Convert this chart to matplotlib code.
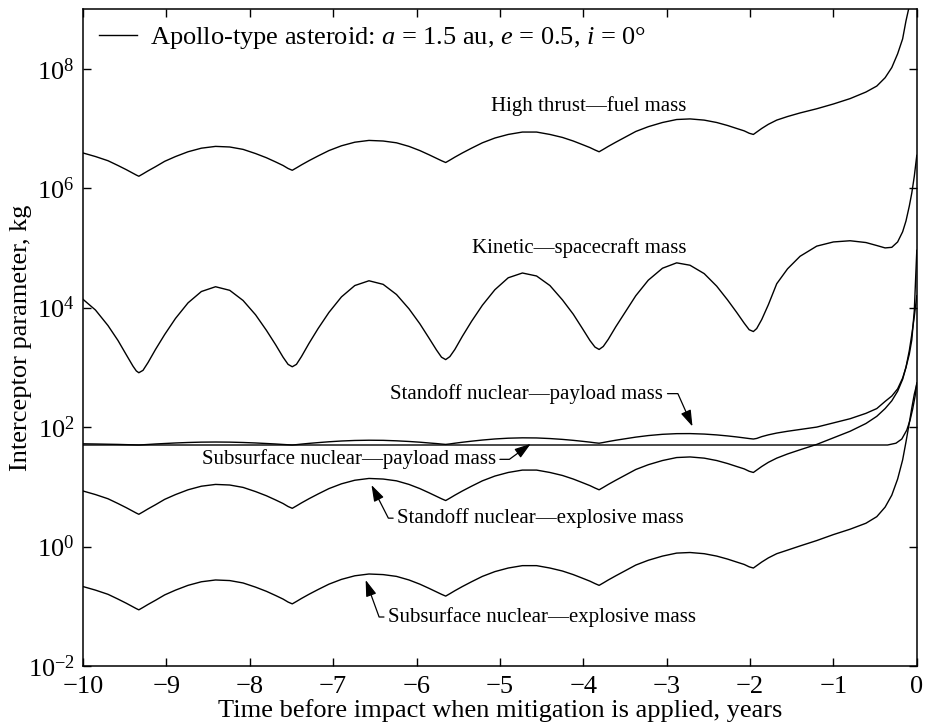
import matplotlib
matplotlib.use("Agg")
import matplotlib.pyplot as plt
import numpy as np
from matplotlib.ticker import NullLocator, LogFormatterMathtext

plt.rcParams['font.family'] = 'serif'
plt.rcParams['font.serif'] = ['Liberation Serif', 'DejaVu Serif']
plt.rcParams['mathtext.fontset'] = 'custom'
plt.rcParams['mathtext.rm'] = 'Liberation Serif'
plt.rcParams['mathtext.it'] = 'Liberation Serif:italic'
plt.rcParams['mathtext.bf'] = 'Liberation Serif:bold'

# time before impact, years
t = [-10.0, -9.85, -9.70, -9.58, -9.48, -9.40, -9.36,
     -9.33,
     -9.28, -9.22, -9.13, -9.02, -8.89, -8.74, -8.58, -8.41, -8.24, -8.08, -7.93, -7.80, -7.69, -7.60, -7.54,
     -7.49,
     -7.44, -7.38, -7.29, -7.18, -7.05, -6.90, -6.74, -6.57, -6.40, -6.24, -6.09, -5.96, -5.85, -5.76, -5.70,
     -5.65,
     -5.60, -5.54, -5.45, -5.34, -5.21, -5.06, -4.90, -4.73, -4.56, -4.40, -4.25, -4.12, -4.01, -3.92, -3.86,
     -3.81,
     -3.76, -3.70, -3.61, -3.49, -3.37, -3.22, -3.05, -2.88, -2.72, -2.55, -2.40, -2.27, -2.16, -2.07, -2.01,
     -1.96,
     -1.92, -1.86, -1.78, -1.68, -1.55, -1.40, -1.20, -1.00, -0.80, -0.61, -0.48, -0.38, -0.30, -0.23,
     -0.17, -0.13, -0.09, -0.06, -0.03, 0.0]

# log10 of mass in kg
high_thrust = [6.59, 6.53, 6.46, 6.38, 6.31, 6.25, 6.22,
               6.20,
               6.24, 6.29, 6.36, 6.45, 6.53, 6.61, 6.67, 6.70, 6.69, 6.65, 6.58, 6.51, 6.44, 6.38, 6.33,
               6.30,
               6.34, 6.39, 6.46, 6.54, 6.63, 6.71, 6.77, 6.80, 6.79, 6.76, 6.70, 6.63, 6.56, 6.50, 6.46,
               6.43,
               6.47, 6.52, 6.59, 6.67, 6.76, 6.84, 6.90, 6.94, 6.94, 6.90, 6.85, 6.79, 6.73, 6.68, 6.64,
               6.61,
               6.65, 6.70, 6.77, 6.86, 6.95, 7.03, 7.10, 7.15, 7.16, 7.14, 7.10, 7.05, 7.00, 6.96, 6.92,
               6.90,
               6.94, 7.00, 7.07, 7.14, 7.20, 7.26, 7.33, 7.41, 7.50, 7.61, 7.71, 7.85, 8.02, 8.25,
               8.50, 8.80, 9.05, 9.3, 9.6, 9.9]

kinetic = [4.14, 3.96, 3.70, 3.45, 3.21, 3.02, 2.94,
           2.91,
           2.95, 3.08, 3.30, 3.55, 3.82, 4.08, 4.27, 4.35, 4.29, 4.12, 3.88, 3.62, 3.38, 3.17, 3.05,
           3.01,
           3.05, 3.18, 3.40, 3.65, 3.92, 4.18, 4.37, 4.45, 4.39, 4.22, 3.98, 3.73, 3.49, 3.29, 3.17,
           3.13,
           3.18, 3.30, 3.52, 3.77, 4.04, 4.30, 4.50, 4.58, 4.53, 4.37, 4.13, 3.89, 3.65, 3.45, 3.34,
           3.30,
           3.35, 3.47, 3.68, 3.94, 4.20, 4.46, 4.66, 4.75, 4.71, 4.57, 4.36, 4.13, 3.92, 3.74, 3.63,
           3.60,
           3.65, 3.80, 4.05, 4.40, 4.65, 4.86, 5.03, 5.10, 5.12, 5.09, 5.04, 5.00, 5.01, 5.10,
           5.27, 5.45, 5.70, 5.92, 6.20, 6.55]

standoff_payload = [1.720, 1.717, 1.713, 1.710, 1.706, 1.703, 1.701,
                    1.700,
                    1.704, 1.709, 1.717, 1.725, 1.734, 1.742, 1.748, 1.750, 1.748, 1.742, 1.734, 1.725, 1.717, 1.709, 1.704,
                    1.700,
                    1.706, 1.715, 1.727, 1.740, 1.754, 1.767, 1.776, 1.780, 1.778, 1.770, 1.759, 1.747, 1.734, 1.724, 1.716,
                    1.710,
                    1.718, 1.730, 1.746, 1.764, 1.783, 1.801, 1.814, 1.820, 1.818, 1.808, 1.794, 1.778, 1.762, 1.748, 1.737,
                    1.730,
                    1.742, 1.758, 1.780, 1.806, 1.832, 1.858, 1.879, 1.890, 1.891, 1.883, 1.869, 1.852, 1.835, 1.819, 1.808,
                    1.800,
                    1.81, 1.84, 1.87, 1.90, 1.93, 1.96, 2.00, 2.07, 2.14, 2.23, 2.31, 2.43, 2.52, 2.64,
                    2.82, 3.00, 3.22, 3.46, 3.95, 4.96]

standoff_explosive = [0.93, 0.87, 0.80, 0.72, 0.65, 0.59, 0.56,
                      0.54,
                      0.58, 0.63, 0.70, 0.79, 0.87, 0.95, 1.01, 1.04, 1.03, 0.99, 0.92, 0.85, 0.78, 0.72, 0.67,
                      0.64,
                      0.68, 0.73, 0.80, 0.88, 0.97, 1.05, 1.11, 1.14, 1.13, 1.10, 1.04, 0.97, 0.90, 0.84, 0.80,
                      0.77,
                      0.81, 0.86, 0.93, 1.01, 1.10, 1.18, 1.24, 1.28, 1.28, 1.24, 1.19, 1.13, 1.07, 1.02, 0.98,
                      0.95,
                      0.99, 1.04, 1.11, 1.20, 1.29, 1.37, 1.44, 1.49, 1.50, 1.48, 1.44, 1.39, 1.34, 1.30, 1.26,
                      1.24,
                      1.28, 1.34, 1.41, 1.48, 1.55, 1.62, 1.71, 1.82, 1.93, 2.06, 2.18, 2.31, 2.44, 2.60,
                      2.80, 3.00, 3.28, 3.55, 3.85, 4.20]

subsurface_explosive = [-0.67, -0.73, -0.80, -0.88, -0.95, -1.01, -1.04,
                        -1.06,
                        -1.02, -0.97, -0.90, -0.81, -0.73, -0.65, -0.59, -0.56, -0.57, -0.61, -0.68, -0.75, -0.82, -0.88, -0.93,
                        -0.96,
                        -0.92, -0.87, -0.80, -0.72, -0.63, -0.55, -0.49, -0.46, -0.47, -0.50, -0.56, -0.63, -0.70, -0.76, -0.80,
                        -0.83,
                        -0.79, -0.74, -0.67, -0.59, -0.50, -0.42, -0.36, -0.32, -0.32, -0.36, -0.41, -0.47, -0.53, -0.58, -0.62,
                        -0.65,
                        -0.61, -0.56, -0.49, -0.40, -0.31, -0.23, -0.16, -0.11, -0.10, -0.12, -0.16, -0.21, -0.26, -0.30, -0.34,
                        -0.36,
                        -0.32, -0.26, -0.19, -0.12, -0.06, 0.01, 0.10, 0.20, 0.29, 0.39, 0.50, 0.66, 0.86, 1.13,
                        1.45, 1.75, 2.07, 2.32, 2.55, 2.72]

t_sub_payload = [-10.0, -0.35, -0.25, -0.18, -0.12, -0.08, -0.05, -0.02, 0.0]
subsurface_payload = [1.70, 1.70, 1.73, 1.80, 1.95, 2.12, 2.30, 2.52, 2.74]

fig = plt.figure(figsize=(9.27, 7.28), dpi=100)
ax = fig.add_axes([0.0895, 0.0852, 0.8995, 0.9024])

line = dict(color='black', lw=1.0, solid_joinstyle='round')
ax.plot(t, 10 ** np.array(high_thrust), **line,
        label='Apollo-type asteroid: $a$ = 1.5 au, $e$ = 0.5, $i$ = 0\u00b0')
ax.plot(t, 10 ** np.array(kinetic), **line)
ax.plot(t, 10 ** np.array(standoff_payload), **line)
ax.plot(t_sub_payload, 10 ** np.array(subsurface_payload), **line)
ax.plot(t, 10 ** np.array(standoff_explosive), **line)
ax.plot(t, 10 ** np.array(subsurface_explosive), **line)

ax.set_yscale('log')
ax.set_xlim(-10, 0)
ax.set_ylim(1e-2, 1e9)
ax.set_xticks(range(-10, 1))
ax.set_yticks([1e-2, 1e0, 1e2, 1e4, 1e6, 1e8])
ax.yaxis.set_major_formatter(LogFormatterMathtext())
ax.yaxis.set_minor_locator(NullLocator())
ax.tick_params(direction='in', top=True, right=True, length=6, width=1,
               labelsize=19, pad=6)
ax.tick_params(axis='x', pad=7)
for s in ax.spines.values():
    s.set_linewidth(1.1)

ax.set_xlabel('Time before impact when mitigation is applied, years',
              fontsize=19, labelpad=1)
ax.set_ylabel('Interceptor parameter, kg', fontsize=19, labelpad=-3)

ax.legend(loc='upper left', frameon=False, fontsize=19, handlelength=1.45,
          handletextpad=0.5, borderaxespad=0.3, borderpad=0.3)

fs = 15
ax.text(-3.93, 10 ** 7.37, 'High thrust\u2014fuel mass', fontsize=fs,
        ha='center', va='center')
ax.text(-4.05, 10 ** 5.0, 'Kinetic\u2014spacecraft mass', fontsize=fs,
        ha='center', va='center')

head = '-|>,head_length=0.55,head_width=0.18'


def leader(label, text_xy, target, angle, ha):
    ax.annotate(label, xy=target, xytext=text_xy, fontsize=fs, ha=ha,
                va='center',
                arrowprops=dict(arrowstyle=head, color='black', lw=0.9,
                                mutation_scale=18, shrinkA=1, shrinkB=0,
                                connectionstyle='angle,angleA=0,angleB=%g,rad=0' % angle))


leader('Standoff nuclear\u2014payload mass', (-3.04, 10 ** 2.56),
       (-2.69, 10 ** 2.01), 114, 'right')
leader('Subsurface nuclear\u2014payload mass', (-5.05, 10 ** 1.46),
       (-4.63, 10 ** 1.72), 36, 'right')
leader('Standoff nuclear\u2014explosive mass', (-6.23, 10 ** 0.475),
       (-6.54, 10 ** 1.03), 117, 'left')
leader('Subsurface nuclear\u2014explosive mass', (-6.34, 10 ** -1.18),
       (-6.61, 10 ** -0.56), 110, 'left')

fig.savefig('out.png', dpi=100)
